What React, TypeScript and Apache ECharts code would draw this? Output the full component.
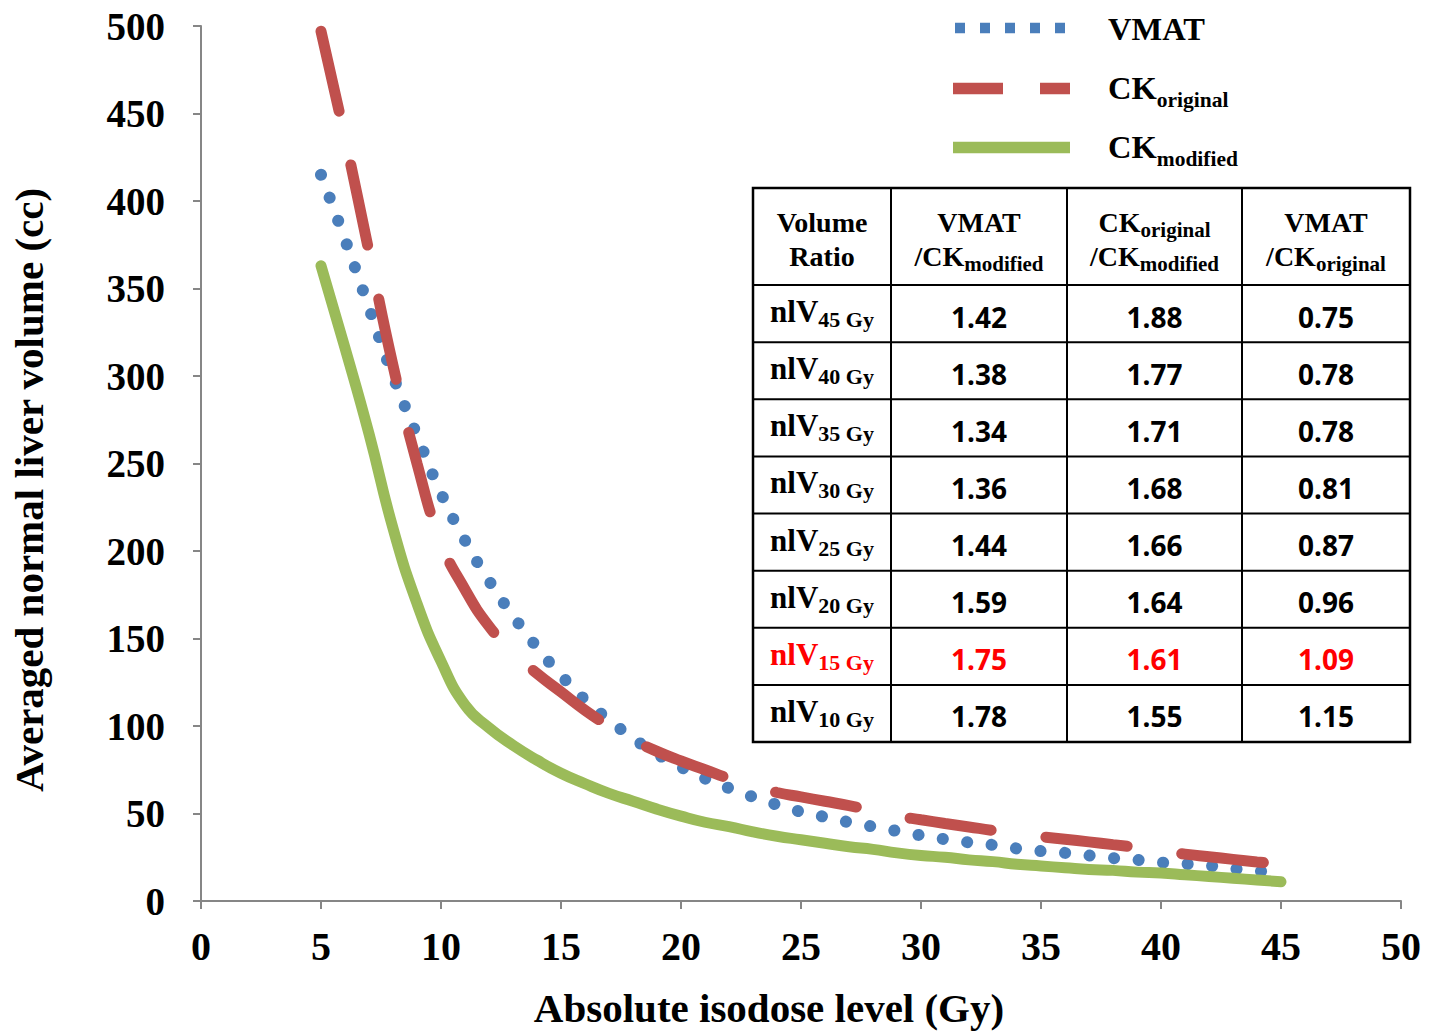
import React, { useEffect, useRef } from "react";
import * as echarts from "echarts";

// ---------- data ----------
const doseLevels = [
  5, 6, 7, 8, 9, 10, 11, 12, 13, 14, 15, 16, 17, 18, 19, 20, 21, 22, 23, 24, 25,
  26, 27, 28, 29, 30, 31, 32, 33, 34, 35, 36, 37, 38, 39, 40, 41, 42, 43, 44, 45,
];
const vmatVolume = [
  415, 378, 339, 300, 266, 233, 206, 183, 163, 145, 129, 115, 103.5, 93, 84, 76.5,
  70, 64.5, 59.5, 55, 51, 48, 45, 42.5, 40, 37.5, 35.3, 33.5, 32, 30, 28.5, 27.5,
  26, 24.5, 23.5, 22, 21.2, 20.2, 18.5, 17.2, 15.8,
];
const ckOriginalVolume = [
  497, 436, 371, 306, 250, 205, 178, 157, 142, 130, 119.5, 109, 100, 92, 85.5, 80,
  75, 70, 65.5, 62, 59.5, 57, 54.5, 51.7, 48.6, 46.4, 44.3, 42.3, 40.3, 38.5, 36.8,
  35.3, 33.8, 32.2, 30.6, 28.6, 26.8, 25.3, 23.8, 22.3, 21.4,
];
const ckModifiedVolume = [
  363, 316, 267, 213, 170, 137, 112, 99, 89, 80.5, 73, 67, 61.5, 57, 52.5, 48.5,
  45, 42.5, 39.5, 37, 35, 33, 31, 29.5, 27.5, 26, 25, 23.5, 22.5, 21, 20, 19, 18,
  17.5, 16.5, 16, 15, 14, 13, 12, 11,
];

const tableDoseLabels = ["45 Gy", "40 Gy", "35 Gy", "30 Gy", "25 Gy", "20 Gy", "15 Gy", "10 Gy"];
const vmatOverCkModified = [1.42, 1.38, 1.34, 1.36, 1.44, 1.59, 1.75, 1.78];
const ckOriginalOverCkModified = [1.88, 1.77, 1.71, 1.68, 1.66, 1.64, 1.61, 1.55];
const vmatOverCkOriginal = [0.75, 0.78, 0.78, 0.81, 0.87, 0.96, 1.09, 1.15];
const highlightedDose = "15 Gy";

const xAxisTitle = "Absolute isodose level (Gy)";
const yAxisTitle = "Averaged normal liver volume (cc)";

// ---------- styles ----------
const SERIF = '"Liberation Serif", "Times New Roman", serif';
const SANS = '"Noto Sans", "Open Sans", sans-serif';
const BLUE = "#4a7ebb";
const RED = "#c0504d";
const GREEN = "#9bbb59";
const AXIS = "#868686";

function subText(
  x: number,
  y: number,
  base: string,
  sub: string,
  baseSize: number,
  subSize: number,
  drop: number,
  color: string,
  align: string
) {
  const L = 40;
  const p = drop + L / 2 - subSize / 2 + 0.33 * (baseSize - subSize);
  return {
    type: "text",
    x,
    y,
    silent: true,
    style: {
      text: sub ? `{b|${base}}{s|${sub}}` : `{b|${base}}`,
      align,
      verticalAlign: "middle",
      fill: color,
      rich: {
        b: {
          fontSize: baseSize,
          fontFamily: SERIF,
          fontWeight: "bold",
          fill: color,
          lineHeight: L,
          verticalAlign: "middle",
        },
        s: {
          fontSize: subSize,
          fontFamily: SERIF,
          fontWeight: "bold",
          fill: color,
          lineHeight: 20,
          verticalAlign: "top",
          padding: [p, 0, 0, 0],
        },
      },
    },
  };
}

function buildGraphics() {
  const g: any[] = [];
  // Axis titles
  g.push({
    type: "text",
    x: 769,
    y: 1008,
    silent: true,
    style: {
      text: xAxisTitle,
      align: "center",
      verticalAlign: "middle",
      fontFamily: SERIF,
      fontWeight: "bold",
      fontSize: 41,
      fill: "#000",
    },
  });
  g.push({
    type: "text",
    x: 29,
    y: 490,
    rotation: Math.PI / 2,
    silent: true,
    style: {
      text: yAxisTitle,
      align: "center",
      verticalAlign: "middle",
      fontFamily: SERIF,
      fontWeight: "bold",
      fontSize: 41,
      fill: "#000",
    },
  });

  // Legend
  g.push({
    type: "line",
    silent: true,
    shape: { x1: 955, y1: 28, x2: 1070, y2: 28 },
    style: { stroke: BLUE, lineWidth: 10.5, lineDash: [10, 15], lineCap: "butt" },
  });
  g.push({
    type: "line",
    silent: true,
    shape: { x1: 953, y1: 88.5, x2: 1070, y2: 88.5 },
    style: { stroke: RED, lineWidth: 11.5, lineDash: [50, 37], lineCap: "butt" },
  });
  g.push({
    type: "line",
    silent: true,
    shape: { x1: 953, y1: 147.5, x2: 1070, y2: 147.5 },
    style: { stroke: GREEN, lineWidth: 11.5, lineCap: "butt" },
  });
  g.push(subText(1108, 29, "VMAT", "", 32.5, 21.5, 8, "#000", "left"));
  g.push(subText(1108, 88, "CK", "original", 32.5, 21.5, 8, "#000", "left"));
  g.push(subText(1108, 147, "CK", "modified", 32.5, 21.5, 8, "#000", "left"));

  // Table
  const cols = [753, 891, 1067, 1242, 1410];
  const top = 188;
  const headerBottom = 285;
  const rowH = 57.125;
  const bottom = headerBottom + rowH * tableDoseLabels.length;
  g.push({
    type: "rect",
    silent: true,
    shape: { x: cols[0], y: top, width: cols[4] - cols[0], height: bottom - top },
    style: { fill: "#fff", stroke: "#000", lineWidth: 2.5 },
  });
  for (let c = 1; c < cols.length - 1; c++) {
    g.push({
      type: "line",
      silent: true,
      shape: { x1: cols[c], y1: top, x2: cols[c], y2: bottom },
      style: { stroke: "#000", lineWidth: 2 },
    });
  }
  for (let r = 0; r < tableDoseLabels.length; r++) {
    const y = headerBottom + rowH * r;
    g.push({
      type: "line",
      silent: true,
      shape: { x1: cols[0], y1: y, x2: cols[4], y2: y },
      style: { stroke: "#000", lineWidth: 2 },
    });
  }
  const cx = (c: number) => (cols[c] + cols[c + 1]) / 2;
  const h1 = 222;
  const h2 = 256;
  g.push(subText(cx(0), h1, "Volume", "", 28, 21, 6, "#000", "center"));
  g.push(subText(cx(0), h2, "Ratio", "", 28, 21, 6, "#000", "center"));
  g.push(subText(cx(1), h1, "VMAT", "", 28, 21, 6, "#000", "center"));
  g.push(subText(cx(1), h2, "/CK", "modified", 28, 21, 6, "#000", "center"));
  g.push(subText(cx(2), h1, "CK", "original", 28, 21, 6, "#000", "center"));
  g.push(subText(cx(2), h2, "/CK", "modified", 28, 21, 6, "#000", "center"));
  g.push(subText(cx(3), h1, "VMAT", "", 28, 21, 6, "#000", "center"));
  g.push(subText(cx(3), h2, "/CK", "original", 28, 21, 6, "#000", "center"));

  const valueCols = [vmatOverCkModified, ckOriginalOverCkModified, vmatOverCkOriginal];
  tableDoseLabels.forEach((label, r) => {
    const yc = headerBottom + rowH * r + rowH / 2;
    const color = label === highlightedDose ? "#ff0000" : "#000";
    g.push(subText(cx(0), yc - 2, "nlV", label, 31, 22, 5, color, "center"));
    valueCols.forEach((arr, k) => {
      g.push({
        type: "text",
        x: cx(k + 1),
        y: yc + 3,
        silent: true,
        style: {
          text: arr[r].toFixed(2),
          align: "center",
          verticalAlign: "middle",
          fontFamily: SANS,
          fontWeight: "bold",
          fontSize: 28,
          fill: color,
        },
      });
    });
  });
  return g;
}

function pairs(ys: number[]) {
  return doseLevels.map((x, i) => [x, ys[i]]);
}

export default function App() {
  const ref = useRef<HTMLDivElement>(null);
  useEffect(() => {
    if (!ref.current) return;
    const chart = echarts.init(ref.current, null, { renderer: "svg" });
    const axisLabelBase = {
      color: "#000",
      fontFamily: SERIF,
      fontWeight: "bold",
    };
    chart.setOption({
      animation: false,
      backgroundColor: "#ffffff",
      grid: {
        left: 201,
        right: 31,
        top: 26,
        bottom: 130,
        containLabel: false,
        outerBoundsMode: "none",
      },
      xAxis: {
        type: "value",
        min: 0,
        max: 50,
        interval: 5,
        axisLine: { show: true, lineStyle: { color: AXIS, width: 2 } },
        axisTick: { show: true, length: 8, lineStyle: { color: AXIS, width: 2 } },
        axisLabel: { ...axisLabelBase, fontSize: 40, margin: 25 },
        splitLine: { show: false },
      },
      yAxis: {
        type: "value",
        min: 0,
        max: 500,
        interval: 50,
        axisLine: { show: true, lineStyle: { color: AXIS, width: 2 } },
        axisTick: { show: true, length: 8, lineStyle: { color: AXIS, width: 2 } },
        axisLabel: { ...axisLabelBase, fontSize: 39, margin: 36 },
        splitLine: { show: false },
      },
      series: [
        {
          name: "VMAT",
          type: "line",
          data: pairs(vmatVolume),
          symbol: "none",
          showSymbol: false,
          smooth: 0.5,
          silent: true,
          lineStyle: { color: BLUE, width: 12, type: [0.1, 24.5], cap: "round" },
          z: 2,
        },
        {
          name: "CK original",
          type: "line",
          data: pairs(ckOriginalVolume),
          symbol: "none",
          showSymbol: false,
          smooth: 0.5,
          silent: true,
          lineStyle: { color: RED, width: 11, type: [82, 55], cap: "round" },
          z: 3,
        },
        {
          name: "CK modified",
          type: "line",
          data: pairs(ckModifiedVolume),
          symbol: "none",
          showSymbol: false,
          smooth: 0.5,
          silent: true,
          lineStyle: { color: GREEN, width: 11, type: "solid", cap: "round" },
          z: 2,
        },
      ],
      graphic: { elements: buildGraphics() },
    });
    return () => chart.dispose();
  }, []);
  return (
    <div
      ref={ref}
      style={{ position: "absolute", left: 0, top: 0, width: 1432, height: 1031 }}
    />
  );
}
